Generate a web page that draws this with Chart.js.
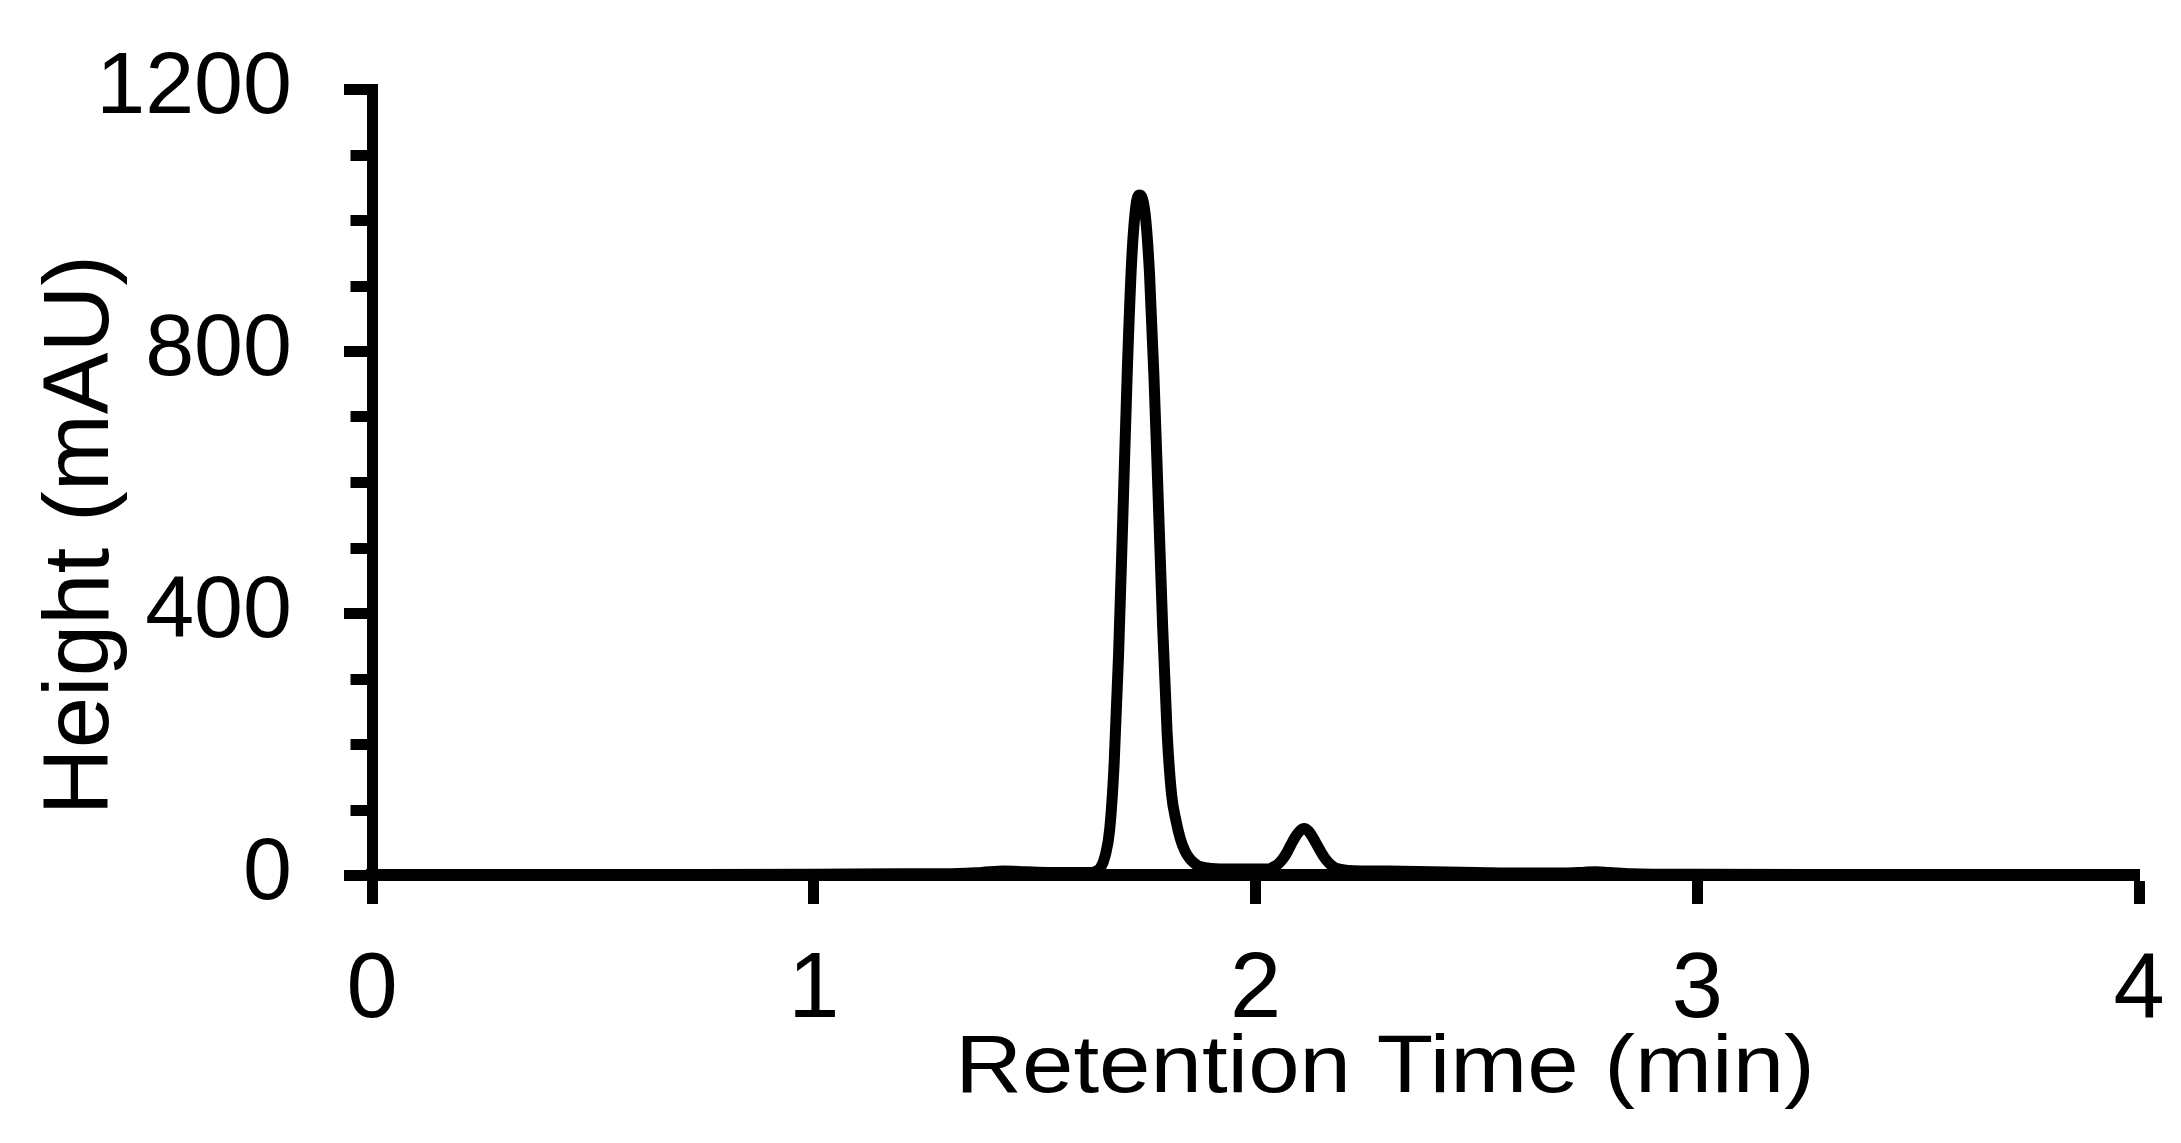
<!DOCTYPE html>
<html><head><meta charset="utf-8">
<script src="https://cdn.jsdelivr.net/npm/chart.js@4.4.0/dist/chart.umd.min.js"></script>
<style>html,body{margin:0;padding:0;background:#fff;overflow:hidden}</style>
</head><body>
<canvas id="c" width="2181" height="1143"></canvas>
<script>
// ---- data ----
const retentionTime = [0, 0.5, 1.0, 1.2, 1.3, 1.38, 1.43, 1.48, 1.53, 1.58, 1.61, 1.62, 1.63, 1.64, 1.65, 1.66, 1.67, 1.68, 1.69, 1.70, 1.71, 1.72, 1.73, 1.738, 1.75, 1.76, 1.77, 1.78, 1.79, 1.80, 1.81, 1.82, 1.83, 1.84, 1.85, 1.86, 1.87, 1.88, 1.90, 1.95, 2.00, 2.03, 2.04, 2.05, 2.06, 2.07, 2.08, 2.09, 2.10, 2.11, 2.12, 2.13, 2.14, 2.15, 2.16, 2.17, 2.18, 2.19, 2.21, 2.3, 2.4, 2.5, 2.6, 2.7, 2.74, 2.77, 2.80, 2.85, 3.0, 3.5, 4.0];
const heightMAU = [0.5, 0.5, 1, 2, 2, 4, 6, 5, 4, 4, 4, 4, 4, 6, 12, 30, 70, 170, 336, 553, 774, 942, 1025, 1038, 1010, 919, 763, 570, 376, 216, 123, 83, 55, 37, 26, 19, 14, 12, 10, 9, 9, 9, 12, 16, 23, 33, 46, 58, 67, 71, 67, 57, 45, 33, 23, 16, 11, 9, 7, 6, 5, 4, 3, 3, 4, 5, 4, 2, 1, 0.5, 0.5];
const xTickValues = [0, 1, 2, 3, 4];
const yTickValues = [0, 400, 800, 1200];
const yMinorValues = [100, 200, 300, 500, 600, 700, 900, 1000, 1100];
const xTitle = 'Retention Time (min)';
const yTitle = 'Height (mAU)';

const FONT = '"Liberation Sans", Arial, sans-serif';

const extras = {
  id: 'extras',
  afterDraw(chart) {
    const ctx = chart.ctx, ca = chart.chartArea, ys = chart.scales.y;
    ctx.save();
    // minor y ticks
    ctx.strokeStyle = '#000'; ctx.lineWidth = 11; ctx.lineCap = 'butt';
    yMinorValues.forEach(v => {
      const py = Math.round(ys.getPixelForValue(v)) + 0.5;
      ctx.beginPath(); ctx.moveTo(ca.left - 21.5, py); ctx.lineTo(ca.left, py); ctx.stroke();
    });
    ctx.fillStyle = '#000';
    ctx.textBaseline = 'alphabetic';
    // x axis title
    ctx.font = '82px ' + FONT;
    ctx.textAlign = 'left';
    let m = ctx.measureText(xTitle);
    let ink = m.actualBoundingBoxLeft + m.actualBoundingBoxRight;
    const sx = 848 / ink;
    ctx.save();
    ctx.translate(ca.left + 590, ca.bottom + 217);
    ctx.scale(sx, 1);
    ctx.fillText(xTitle, m.actualBoundingBoxLeft, 0);
    ctx.restore();
    // y axis title (rotated)
    ctx.font = '80px ' + FONT;
    ctx.textAlign = 'center';
    m = ctx.measureText(yTitle);
    ink = m.actualBoundingBoxLeft + m.actualBoundingBoxRight;
    const sl = 548 / ink;
    const sc = 67 / (0.716 * 80);
    ctx.save();
    ctx.translate(ca.left - 264, ca.top + 446);
    ctx.rotate(-Math.PI / 2);
    ctx.scale(sl, sc);
    ctx.fillText(yTitle, 0, 0);
    ctx.restore();
    ctx.restore();
  }
};

new Chart(document.getElementById('c'), {
  type: 'line',
  data: {
    datasets: [{
      data: retentionTime.map((t, i) => ({ x: t, y: heightMAU[i] })),
      borderColor: '#000',
      borderWidth: 11,
      pointRadius: 0,
      fill: false,
      cubicInterpolationMode: 'monotone',
      borderJoinStyle: 'round',
      borderCapStyle: 'butt'
    }]
  },
  options: {
    responsive: false,
    animation: false,
    devicePixelRatio: 1,
    layout: { padding: { left: 0, top: 89, right: 42, bottom: 0 } },
    plugins: { legend: { display: false }, tooltip: { enabled: false } },
    scales: {
      x: {
        type: 'linear', min: 0, max: 4,
        afterFit: s => { s.height = 268; s.paddingLeft = 0; s.paddingRight = 0; },
        afterBuildTicks: s => { s.ticks = xTickValues.map(v => ({ value: v })); },
        grid: { drawOnChartArea: false, tickLength: 29, tickWidth: 11, tickColor: '#000' },
        border: { display: true, color: '#000', width: 12 },
        ticks: { color: '#000', padding: 32, maxRotation: 0, font: { family: FONT, size: 92 }, callback: v => String(v) }
      },
      y: {
        type: 'linear', min: 0, max: 1200,
        afterFit: s => { s.width = 372; s.paddingTop = 0; s.paddingBottom = 0; },
        afterBuildTicks: s => { s.ticks = yTickValues.map(v => ({ value: v })); },
        grid: { drawOnChartArea: false, tickLength: 28, tickWidth: 11, tickColor: '#000' },
        border: { display: true, color: '#000', width: 11 },
        ticks: { color: '#000', padding: 52, font: { family: FONT, size: 88 }, callback: v => String(v) }
      }
    }
  },
  plugins: [extras]
});
</script>
</body></html>
